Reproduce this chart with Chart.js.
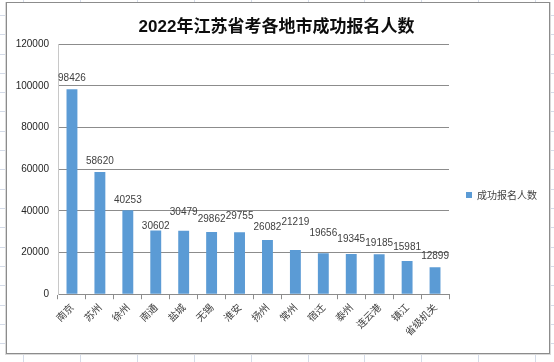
<!DOCTYPE html>
<html>
<head>
<meta charset="utf-8">
<script src="https://cdn.jsdelivr.net/npm/chart.js@4.4.1/dist/chart.umd.min.js"></script>
<style>
  html, body { margin: 0; padding: 0; background: #ffffff; }
  #wrap { width: 554px; height: 362px; }
</style>
</head>
<body>
<div id="wrap"><canvas id="c" width="554" height="362"></canvas></div>
<script>
// ---- data ----
const chartTitle = '2022年江苏省考各地市成功报名人数';
const seriesName = '成功报名人数';
const cities = ['南京', '苏州', '徐州', '南通', '盐城', '无锡', '淮安', '扬州', '常州', '宿迁', '泰州', '连云港', '镇江', '省级机关'];
const applicants = [98426, 58620, 40253, 30602, 30479, 29862, 29755, 26082, 21219, 19656, 19345, 19185, 15981, 12899];
const yTicks = [0, 20000, 40000, 60000, 80000, 100000, 120000];

// ---- background: spreadsheet grid + chart frame ----
const sheetBackground = {
  id: 'sheetBackground',
  beforeDraw(chart) {
    const ctx = chart.ctx;
    const W = chart.width, H = chart.height;
    ctx.save();
    ctx.fillStyle = '#ffffff';
    ctx.fillRect(0, 0, W, H);
    ctx.strokeStyle = '#d4dbe8';
    ctx.lineWidth = 1;
    for (let x = 23; x < W; x += 56.9) {
      const px = Math.round(x) + 0.5;
      ctx.beginPath(); ctx.moveTo(px, 0); ctx.lineTo(px, H); ctx.stroke();
    }
    for (let y = 15; y < H; y += 19.3) {
      const py = Math.round(y) + 0.5;
      ctx.beginPath(); ctx.moveTo(0, py); ctx.lineTo(W, py); ctx.stroke();
    }
    ctx.fillStyle = '#ffffff';
    ctx.fillRect(6, 2, 544, 352);
    ctx.strokeStyle = '#d9d9d9';
    ctx.strokeRect(5.5, 2.5, 545, 352);
    ctx.strokeStyle = '#8c8c8c';
    ctx.strokeRect(6.5, 2.5, 543, 351);
    ctx.restore();
  }
};

// ---- value labels above bars ----
const valueLabels = {
  id: 'valueLabels',
  afterDatasetsDraw(chart, args, opts) {
    const ctx = chart.ctx;
    const meta = chart.getDatasetMeta(0);
    const ds = chart.data.datasets[0];
    const lift = opts.lift || [];
    ctx.save();
    ctx.font = '10px "Liberation Sans", Arial, sans-serif';
    ctx.fillStyle = '#404040';
    ctx.textAlign = 'center';
    ctx.textBaseline = 'middle';
    meta.data.forEach((bar, i) => {
      const y = bar.y - 10.5 - (lift[i] || 0);
      ctx.fillText(String(ds.data[i]), bar.x, y);
    });
    ctx.restore();
  }
};

new Chart(document.getElementById('c'), {
  type: 'bar',
  data: {
    labels: cities,
    datasets: [{
      label: seriesName,
      data: applicants,
      backgroundColor: '#5b9bd5',
      borderWidth: 0,
      barPercentage: 0.39,
      categoryPercentage: 1.0
    }]
  },
  options: {
    responsive: false,
    animation: false,
    devicePixelRatio: 1,
    layout: { padding: { left: 6, top: 4, right: 7, bottom: 22 } },
    plugins: {
      title: {
        display: true,
        text: chartTitle,
        color: '#0d0d0d',
        font: { family: '"Liberation Sans", "Noto Sans CJK SC", sans-serif', size: 17, weight: 'bold' },
        padding: { top: 13, bottom: 6.8 }
      },
      legend: {
        display: true,
        position: 'right',
        title: { display: true, text: ' ', font: { size: 10 }, padding: { top: 0, bottom: 34 } },
        labels: {
          boxWidth: 6,
          boxHeight: 6,
          padding: 17,
          color: '#404040',
          font: { family: '"Noto Sans CJK SC", sans-serif', size: 10 }
        }
      },
      tooltip: { enabled: false },
      valueLabels: { lift: [0, 0, 0, -6, 7.5, 2.5, 5, 2, 17, 10, 4, 1, 3.5, 1] }
    },
    scales: {
      x: {
        grid: { drawOnChartArea: false, drawTicks: true, tickLength: 5, color: '#8c8c8c' },
        border: { color: '#8c8c8c' },
        ticks: {
          minRotation: 45, maxRotation: 45, autoSkip: false,
          color: '#404040', padding: 2,
          font: { family: '"Noto Sans CJK SC", sans-serif', size: 10 }
        }
      },
      y: {
        min: 0, max: 120000,
        afterFit(scale) { scale.width = 52; },
        afterBuildTicks(scale) { scale.ticks = yTicks.map(v => ({ value: v })); },
        grid: { color: '#8c8c8c', drawTicks: false },
        border: { color: '#c8c8c8' },
        ticks: {
          color: '#262626', padding: 9,
          callback: (v) => String(v),
          font: { family: '"Liberation Sans", Arial, sans-serif', size: 10 }
        }
      }
    }
  },
  plugins: [sheetBackground, valueLabels]
});
</script>
</body>
</html>
